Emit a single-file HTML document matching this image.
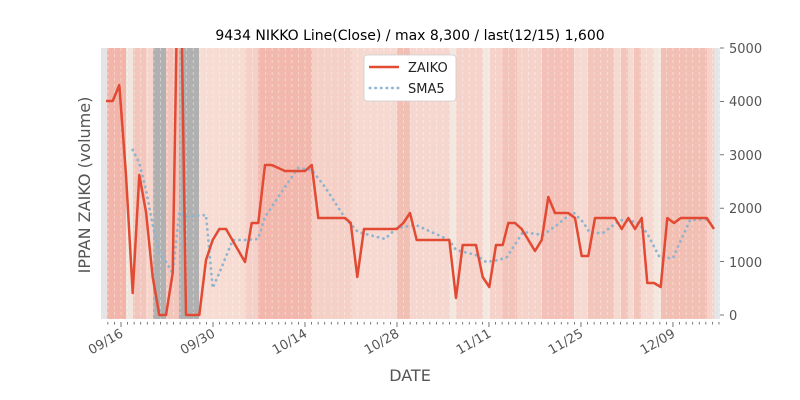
<!DOCTYPE html>
<html><head><meta charset="utf-8"><style>
body{margin:0;background:#fff;}
svg{display:block;font-family:"DejaVu Sans","Liberation Sans",sans-serif;}
</style></head><body>
<svg width="800" height="400" viewBox="0 0 800 400" xmlns="http://www.w3.org/2000/svg">
<defs><clipPath id="c"><rect x="101" y="48" width="619" height="271"/></clipPath></defs>
<g shape-rendering="crispEdges">
<rect x="101" y="48" width="619" height="271" fill="#e5e5e5"/>
<rect x="107" y="48" width="19" height="271" fill="#f2b5aa"/>
<rect x="126" y="48" width="7" height="271" fill="#f0e6dd"/>
<rect x="133" y="48" width="13" height="271" fill="#f3c6bd"/>
<rect x="146" y="48" width="7" height="271" fill="#f5d5cc"/>
<rect x="153" y="48" width="13" height="271" fill="#b0b0b0"/>
<rect x="166" y="48" width="13" height="271" fill="#f3c6bd"/>
<rect x="179" y="48" width="20" height="271" fill="#b0b0b0"/>
<rect x="199" y="48" width="46" height="271" fill="#f7dcd4"/>
<rect x="245" y="48" width="13" height="271" fill="#f5d0c8"/>
<rect x="258" y="48" width="54" height="271" fill="#f2b8ad"/>
<rect x="312" y="48" width="40" height="271" fill="#f5d0c6"/>
<rect x="352" y="48" width="45" height="271" fill="#f6d9d1"/>
<rect x="397" y="48" width="13" height="271" fill="#f2bfb4"/>
<rect x="410" y="48" width="40" height="271" fill="#f6d7cf"/>
<rect x="450" y="48" width="6" height="271" fill="#f2e8df"/>
<rect x="456" y="48" width="27" height="271" fill="#f5d3ca"/>
<rect x="483" y="48" width="7" height="271" fill="#f2e8df"/>
<rect x="490" y="48" width="12" height="271" fill="#f5d3ca"/>
<rect x="502" y="48" width="15" height="271" fill="#f3c4ba"/>
<rect x="517" y="48" width="25" height="271" fill="#f5d3ca"/>
<rect x="542" y="48" width="32" height="271" fill="#f3c1b7"/>
<rect x="574" y="48" width="14" height="271" fill="#f6d9d1"/>
<rect x="588" y="48" width="26" height="271" fill="#f3c6bc"/>
<rect x="614" y="48" width="7" height="271" fill="#f6d9d1"/>
<rect x="621" y="48" width="7" height="271" fill="#f3c4ba"/>
<rect x="628" y="48" width="6" height="271" fill="#f6d9d1"/>
<rect x="634" y="48" width="7" height="271" fill="#f3c4ba"/>
<rect x="641" y="48" width="13" height="271" fill="#f6d9d1"/>
<rect x="654" y="48" width="7" height="271" fill="#f2e8df"/>
<rect x="661" y="48" width="46" height="271" fill="#f2bfb4"/>
<rect x="707" y="48" width="7" height="271" fill="#f6d2c9"/>
</g>
<g id="grid" stroke="#fff" stroke-opacity="0.5" stroke-dasharray="3,3" stroke-width="0.8"></g>
<g clip-path="url(#c)">
<polyline fill="none" stroke="#8fb4d0" stroke-width="2.8" stroke-dasharray="0.1,5.5" stroke-linecap="round"
points="132.7,150 139.3,163 146,190 152.7,225 159.3,253 166,262 172.7,273 179.3,212 186,217 206,215 212.7,288 219.3,273 232.7,240 245,240 258,239 265,217 285,187 298,168 311.7,170 325,187 345,218 358,232 385,239 396.7,228 416,225 449,240 456,250 476,255 486,262 499,260 507,257 523,232 543,235 557,225 573,212 583,222 590,233 603,233 620,220 637,222 647,233 660,258 673,258 690,220 710,219"/>
<polyline fill="none" stroke="#e24a33" stroke-width="2.5" stroke-linejoin="round"
points="106,101 112.7,101 119.3,85 126,175 132.7,293 139.3,175 146,212 152.7,277 159.3,315 166,315 172.7,273 179.3,-128 186,315 199.3,315 206,260 212.7,240 219.3,229 226,229 245,262 251.7,223 258.3,223 265,165 271.7,165 285,171 305,171 311.7,165 318.3,218 345,218 350.7,223 357.3,277 364,229 396.7,229 403.3,223 410,213 416.7,240 449.3,240 456,298 462.7,245 476,245 482.7,277 489.3,287 496,245 502.7,245 508.3,223 515,223 521.7,229 535,251 541.7,240 548.3,197 555,213 568.3,213 575,218 581.7,256 588.3,256 595,218 615,218 621.7,229 628.3,218 635,229 641.7,218 647.3,283 654,283 660.7,287 667.3,218 674,223 680.7,218 706.7,218 714,229"/>
</g>
<g id="ticks" stroke="#555" stroke-width="0.8"></g>
<g stroke="#555" stroke-width="0.8">
<line x1="720" y1="48" x2="724" y2="48"/><line x1="720" y1="101.4" x2="724" y2="101.4"/><line x1="720" y1="154.8" x2="724" y2="154.8"/><line x1="720" y1="208.2" x2="724" y2="208.2"/><line x1="720" y1="261.6" x2="724" y2="261.6"/><line x1="720" y1="315" x2="724" y2="315"/>
</g>
<g font-size="13" fill="#555">
<text x="729" y="53">5000</text><text x="729" y="106">4000</text><text x="729" y="160">3000</text><text x="729" y="213">2000</text><text x="729" y="267">1000</text><text x="729" y="320">0</text>
</g>
<g font-size="13" fill="#555" text-anchor="end">
<text transform="translate(124,336) rotate(-30)">09/16</text>
<text transform="translate(216,336) rotate(-30)">09/30</text>
<text transform="translate(308,336) rotate(-30)">10/14</text>
<text transform="translate(400,336) rotate(-30)">10/28</text>
<text transform="translate(492,336) rotate(-30)">11/11</text>
<text transform="translate(584,336) rotate(-30)">11/25</text>
<text transform="translate(676,336) rotate(-30)">12/09</text>
</g>
<text x="410" y="381" font-size="16" fill="#555" text-anchor="middle">DATE</text>
<text transform="translate(90,185) rotate(-90)" font-size="16" fill="#555" text-anchor="middle">IPPAN ZAIKO (volume)</text>
<text x="410" y="40" font-size="14" fill="#000" text-anchor="middle">9434 NIKKO Line(Close) / max 8,300 / last(12/15) 1,600</text>
<rect x="364" y="55" width="92" height="46" rx="3" fill="#fff" stroke="#ccc" stroke-width="0.8"/>
<line x1="369" y1="67" x2="399" y2="67" stroke="#e24a33" stroke-width="2.5"/>
<line x1="370" y1="88" x2="399" y2="88" stroke="#8fb4d0" stroke-width="2.8" stroke-dasharray="0.1,5.5" stroke-linecap="round"/>
<text x="408" y="72" font-size="13" fill="#222">ZAIKO</text>
<text x="408" y="93" font-size="13" fill="#222">SMA5</text>
</svg>
<script>
var g=document.getElementById('grid'),t=document.getElementById('ticks'),ns='http://www.w3.org/2000/svg';
for(var d=-2;d<=91;d++){var x=121+d*6.571;if(x<102||x>719)continue;
var l=document.createElementNS(ns,'line');l.setAttribute('x1',x);l.setAttribute('x2',x);l.setAttribute('y1',48);l.setAttribute('y2',319);g.appendChild(l);
var k=document.createElementNS(ns,'line');var major=(d%14===0);k.setAttribute('x1',x);k.setAttribute('x2',x);k.setAttribute('y1',322);k.setAttribute('y2',major?327:324.5);t.appendChild(k);}
</script>
</body></html>
